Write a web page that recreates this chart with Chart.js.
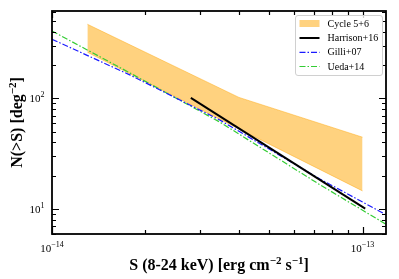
<!DOCTYPE html>
<html>
<head>
<meta charset="utf-8">
<script src="https://cdn.jsdelivr.net/npm/chart.js@4.4.1/dist/chart.umd.min.js"></script>
<style>
  html, body { margin: 0; padding: 0; background: #fff; }
  canvas { display: block; }
</style>
</head>
<body>
<canvas id="nlogs" width="399" height="279"></canvas>
<script>
// values
const bandFlux = [1.3e-14, 4e-14, 1e-13];
const bandUpper = [467, 102, 44.6];
const bandLower = [261, 53, 14.6];

const harrisonFlux = [2.8e-14, 1.02e-13];
const harrisonN = [101, 10.1];

const modelFlux = [1e-14, 1.78e-14, 3.47e-14, 7.29e-14, 1.19e-13];
const gilliN = [342, 163, 63.8, 18.7, 8.9];
const uedaN = [406, 170, 61.1, 16.6, 7.3];

const xTicks = [1e-14, 1e-13];
const yTicks = [10, 100];

const pts = (xs, ys) => xs.map((x, i) => ({x: x, y: ys[i]}));

const serif = '"Liberation Serif", "Times New Roman", serif';

// "10" with a raised exponent
const drawPow = (ctx, exp, x, y, align) => {
    ctx.font = '11px ' + serif;
    const w1 = ctx.measureText('10').width;
    ctx.font = '8px ' + serif;
    const w2 = ctx.measureText(exp).width;
    const start = align === 'center' ? x - (w1 + w2) / 2 : x - (w1 + w2);
    ctx.textAlign = 'left';
    ctx.textBaseline = 'alphabetic';
    ctx.font = '11px ' + serif;
    ctx.fillText('10', start, y);
    ctx.font = '8px ' + serif;
    ctx.fillText(exp, start + w1, y - 5);
};

// text pieces, some of them superscript
const drawRich = (ctx, parts, cx, y) => {
    const big = 'bold 16px ' + serif, small = 'bold 11px ' + serif;
    let total = 0;
    parts.forEach(p => { ctx.font = p.sup ? small : big; total += ctx.measureText(p.t).width; });
    let x = cx - total / 2;
    ctx.textAlign = 'left';
    ctx.textBaseline = 'alphabetic';
    parts.forEach(p => {
        ctx.font = p.sup ? small : big;
        ctx.fillText(p.t, x, p.sup ? y - 6 : y);
        x += ctx.measureText(p.t).width;
    });
};

const axesPlugin = {
    id: 'axes',
    afterDraw(chart) {
        const ctx = chart.ctx, a = chart.chartArea;
        const sx = chart.scales.x, sy = chart.scales.y;
        ctx.save();
        ctx.strokeStyle = '#000';
        ctx.fillStyle = '#000';

        // inward ticks on all four sides
        ctx.lineWidth = 1.2;
        for (let d = -15; d <= -12; d++) {
            for (let m = 1; m <= 9; m++) {
                const v = m * Math.pow(10, d);
                if (v < sx.min * 0.999 || v > sx.max * 1.001) continue;
                const px = Math.round(sx.getPixelForValue(v)) + 0.5;
                const len = m === 1 ? 7 : 4;
                ctx.beginPath();
                ctx.moveTo(px, a.bottom); ctx.lineTo(px, a.bottom - len);
                ctx.moveTo(px, a.top); ctx.lineTo(px, a.top + len);
                ctx.stroke();
            }
        }
        for (let d = 0; d <= 3; d++) {
            for (let m = 1; m <= 9; m++) {
                const v = m * Math.pow(10, d);
                if (v < sy.min * 0.999 || v > sy.max * 1.001) continue;
                const py = Math.round(sy.getPixelForValue(v)) + 0.5;
                const len = m === 1 ? 7 : 4;
                ctx.beginPath();
                ctx.moveTo(a.left, py); ctx.lineTo(a.left + len, py);
                ctx.moveTo(a.right, py); ctx.lineTo(a.right - len, py);
                ctx.stroke();
            }
        }

        // frame
        ctx.lineWidth = 1.8;
        ctx.strokeRect(a.left, a.top, a.right - a.left, a.bottom - a.top);

        // tick labels
        xTicks.forEach(v => {
            const e = Math.round(Math.log10(v));
            drawPow(ctx, '\u2212' + Math.abs(e), sx.getPixelForValue(v), a.bottom + 17.5, 'center');
        });
        yTicks.forEach(v => {
            const e = Math.round(Math.log10(v));
            drawPow(ctx, String(e), a.left - 7.5, sy.getPixelForValue(v) + 4, 'right');
        });

        // axis titles
        drawRich(ctx, [
            {t: 'S (8-24 keV) [erg cm'}, {t: '\u22122', sup: true},
            {t: ' s'}, {t: '\u22121', sup: true}, {t: ']'}
        ], (a.left + a.right) / 2, 270);
        ctx.save();
        ctx.translate(21.5, (a.top + a.bottom) / 2);
        ctx.rotate(-Math.PI / 2);
        drawRich(ctx, [{t: 'N(>S) [deg'}, {t: '\u22122', sup: true}, {t: ']'}], 0, 0);
        ctx.restore();

        // legend
        const lx = 295.5, ly = 15.5, lw = 87, lh = 60;
        ctx.fillStyle = 'rgba(255,255,255,0.8)';
        ctx.strokeStyle = '#d0d0d0';
        ctx.lineWidth = 1;
        ctx.beginPath();
        ctx.roundRect(lx, ly, lw, lh, 2.5);
        ctx.fill();
        ctx.stroke();
        const rows = [23.5, 38, 52.3, 66.5];
        const items = [chart.data.datasets[0], chart.data.datasets[2], chart.data.datasets[3], chart.data.datasets[4]];
        items.forEach((ds, i) => {
            const y = rows[i];
            if (i === 0) {
                ctx.fillStyle = ds.backgroundColor;
                ctx.fillRect(299.5, y - 3.5, 20, 7);
            } else {
                ctx.strokeStyle = ds.borderColor;
                ctx.lineWidth = ds.borderWidth;
                ctx.setLineDash(ds.borderDash || []);
                ctx.beginPath();
                ctx.moveTo(299.5, y); ctx.lineTo(319.5, y);
                ctx.stroke();
                ctx.setLineDash([]);
            }
            ctx.fillStyle = '#000';
            ctx.font = '10px ' + serif;
            ctx.textAlign = 'left';
            ctx.textBaseline = 'middle';
            ctx.fillText(ds.label, 327.5, y + 0.5);
        });
        ctx.restore();
    }
};

const ctx1 = document.getElementById('nlogs');
const chart1 = new Chart(ctx1, {
    type: 'line',
    data: {
        datasets: [
            {
                label: 'Cycle 5+6',
                data: pts(bandFlux, bandUpper),
                backgroundColor: 'rgba(255,165,0,0.5)',
                borderColor: 'rgba(255,165,0,0.45)',
                borderWidth: 1,
                fill: '+1',
                order: 10
            },
            {
                label: 'band lower',
                data: pts(bandFlux, bandLower),
                backgroundColor: 'rgba(255,165,0,0.5)',
                borderColor: 'rgba(255,165,0,0.45)',
                borderWidth: 1,
                fill: false,
                order: 11
            },
            {
                label: 'Harrison+16',
                data: pts(harrisonFlux, harrisonN),
                borderColor: '#000',
                borderWidth: 2,
                fill: false,
                order: 1
            },
            {
                label: 'Gilli+07',
                data: pts(modelFlux, gilliN),
                borderColor: '#1a1aff',
                borderWidth: 1.2,
                borderDash: [6, 2, 1.5, 2],
                fill: false,
                order: 2
            },
            {
                label: 'Ueda+14',
                data: pts(modelFlux, uedaN),
                borderColor: '#33cc33',
                borderWidth: 1.2,
                borderDash: [6, 2, 1.5, 2],
                fill: false,
                order: 3
            }
        ]
    },
    options: {
        responsive: false,
        animation: false,
        layout: { padding: { top: 11, right: 13, left: 0, bottom: 0 } },
        elements: { point: { radius: 0 }, line: { tension: 0 } },
        plugins: { legend: { display: false }, tooltip: { enabled: false } },
        scales: {
            x: {
                type: 'logarithmic',
                min: 1e-14,
                max: 1.19e-13,
                grid: { display: false },
                border: { display: false },
                ticks: { display: false },
                afterBuildTicks: s => { s.ticks = xTicks.map(v => ({value: v})); },
                afterFit: s => { s.height = 45; }
            },
            y: {
                type: 'logarithmic',
                min: 5.96,
                max: 615,
                grid: { display: false },
                border: { display: false },
                ticks: { display: false },
                afterBuildTicks: s => { s.ticks = yTicks.map(v => ({value: v})); },
                afterFit: s => { s.width = 52; }
            }
        }
    },
    plugins: [axesPlugin]
});
</script>
</body>
</html>
